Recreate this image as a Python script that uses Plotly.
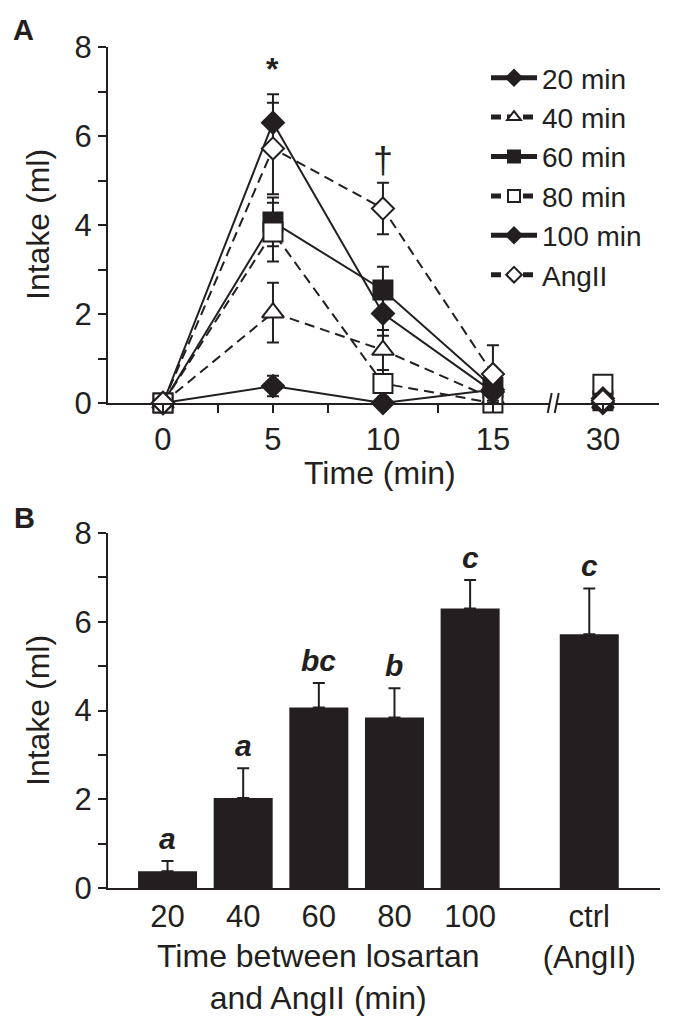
import plotly.graph_objects as go

# ---------------- Panel A data ----------------
times = [0, 5, 10, 15, 30]
series_names = ["20 min", "40 min", "60 min", "80 min", "100 min", "AngII"]
mean_20 = [0.0, 0.38, 0.00, 0.30, 0.00]
sem_20 = [0.0, 0.23, 0.05, 0.12, 0.00]
mean_40 = [0.0, 2.03, 1.19, 0.10, 0.00]
sem_40 = [0.0, 0.67, 0.45, 0.10, 0.00]
mean_60 = [0.0, 4.07, 2.54, 0.35, 0.05]
sem_60 = [0.0, 0.55, 0.52, 0.20, 0.05]
mean_80 = [0.0, 3.84, 0.44, 0.00, 0.42]
sem_80 = [0.0, 0.66, 0.30, 0.05, 0.20]
mean_100 = [0.0, 6.30, 2.01, 0.25, 0.10]
sem_100 = [0.0, 0.64, 0.50, 0.20, 0.10]
mean_ang = [0.0, 5.72, 4.37, 0.65, 0.05]
sem_ang = [0.0, 1.03, 0.58, 0.65, 0.05]
time_ticklabels = ["0", "5", "10", "15", "30"]

# ---------------- Panel B data ----------------
bar_labels = ["20", "40", "60", "80", "100", "ctrl<br>(AngII)"]
bar_values = [0.38, 2.03, 4.07, 3.84, 6.30, 5.72]
bar_sem = [0.23, 0.67, 0.55, 0.66, 0.64, 1.03]
bar_letters = ["a", "a", "bc", "b", "c", "c"]

# ---------------- styling ----------------
W, H = 674, 1030
INK = "#231f20"
FONT = "Liberation Sans, Arial, Helvetica, sans-serif"


def px_x(p):
    return p / W


def px_y(p):
    return 1 - p / H


BREAK_AFTER = 15      # axis is broken between 15 and 30 min
BREAK_POS = 20        # 30 min is drawn at this axis position


def time_to_axis(t):
    return t if t <= BREAK_AFTER else BREAK_POS


styles = {
    "20 min": dict(symbol="diamond", fill=INK, dash="solid", size=17),
    "40 min": dict(symbol="triangle-up", fill="white", dash="10px,6px", size=19),
    "60 min": dict(symbol="square", fill=INK, dash="solid", size=19),
    "80 min": dict(symbol="square", fill="white", dash="10px,6px", size=19),
    "100 min": dict(symbol="diamond", fill=INK, dash="solid", size=17),
    "AngII": dict(symbol="diamond", fill="white", dash="10px,6px", size=17),
}
means = [mean_20, mean_40, mean_60, mean_80, mean_100, mean_ang]
sems = [sem_20, sem_40, sem_60, sem_80, sem_100, sem_ang]

fig = go.Figure()

for name, m, s in zip(series_names, means, sems):
    xs, ys, es = [], [], []
    prev = None
    for t, v, e in zip(times, m, s):
        if prev is not None and prev <= BREAK_AFTER < t:
            xs.append(None)
            ys.append(None)
            es.append(0)
        xs.append(time_to_axis(t))
        ys.append(v)
        es.append(e)
        prev = t
    st = styles[name]
    fig.add_trace(go.Scatter(
        x=xs, y=ys, name=name, mode="lines+markers",
        line=dict(color=INK, width=2, dash=st["dash"]),
        marker=dict(symbol=st["symbol"], size=st["size"], color=st["fill"],
                    line=dict(color=INK, width=2)),
        error_y=dict(type="data", array=es, visible=True, color=INK,
                     thickness=2, width=6),
        cliponaxis=False, connectgaps=False,
        xaxis="x", yaxis="y",
    ))

bar_pos = [0, 1, 2, 3, 4, 5.575]
fig.add_trace(go.Bar(
    x=bar_pos, y=bar_values, width=0.78,
    marker=dict(color=INK, line=dict(width=0)),
    error_y=dict(type="data", array=bar_sem, arrayminus=[0] * len(bar_sem),
                 symmetric=False, color=INK, thickness=2, width=6),
    showlegend=False, xaxis="x2", yaxis="y2",
))

tick_font = dict(family=FONT, size=31, color=INK)
y_tickvals = list(range(0, 9))
y_ticktext = [str(v) if v % 2 == 0 else "" for v in y_tickvals]

axis_common = dict(showline=True, linecolor=INK, linewidth=2, showgrid=False,
                   zeroline=False, tickfont=tick_font, tickcolor=INK,
                   tickwidth=2, automargin=False)

fig.update_layout(
    template="none",
    width=W, height=H, autosize=False,
    margin=dict(l=0, r=0, t=0, b=0, pad=0),
    paper_bgcolor="white", plot_bgcolor="white",
    font=dict(family=FONT, color=INK, size=30),
    xaxis=dict(domain=[px_x(108), px_x(659)], range=[-2.5, 22.55],
               tickvals=[0, 2.5, 5, 7.5, 10, 12.5, 15, BREAK_POS],
               ticktext=["0", "", "5", "", "10", "", "15", "30"],
               ticks="outside", ticklen=8, anchor="y", **axis_common),
    yaxis=dict(domain=[px_y(403), px_y(47)], range=[0, 8],
               tickvals=y_tickvals, ticktext=y_ticktext,
               ticks="outside", ticklen=8, ticklabelstandoff=0, anchor="x",
               **axis_common),
    xaxis2=dict(domain=[px_x(108), px_x(660)], range=[-0.787, 6.51],
                tickvals=bar_pos, ticktext=bar_labels, ticks="",
                anchor="y2", **axis_common),
    yaxis2=dict(domain=[px_y(888), px_y(533)], range=[0, 8],
                tickvals=y_tickvals, ticktext=y_ticktext,
                ticks="outside", ticklen=8, ticklabelstandoff=0, anchor="x2",
                **axis_common),
    legend=dict(x=px_x(486), y=px_y(53), xanchor="left", yanchor="top",
                font=dict(family=FONT, size=28, color=INK),
                bgcolor="rgba(0,0,0,0)", borderwidth=0, itemwidth=46,
                itemsizing="constant", tracegroupgap=0),
    showlegend=True,
)

# axis break marks on the time axis
xd0, xd1 = px_x(108), px_x(659)
r0, r1 = -2.5, 22.55


def axis_paper_x(v):
    return xd0 + (v - r0) / (r1 - r0) * (xd1 - xd0)


break_centers = [17.58, 17.9]
y_axis_line = px_y(403)
fig.add_shape(type="rect", xref="paper", yref="paper",
              x0=axis_paper_x(break_centers[0]), x1=axis_paper_x(break_centers[1]),
              y0=y_axis_line - 2 / H, y1=y_axis_line + 2 / H,
              fillcolor="white", line=dict(width=0), layer="above")
for bc in break_centers:
    fig.add_shape(type="line", xref="paper", yref="paper",
                  x0=axis_paper_x(bc) - 2 / W, y0=y_axis_line - 10 / H,
                  x1=axis_paper_x(bc) + 2 / W, y1=y_axis_line + 10 / H,
                  line=dict(color=INK, width=2), layer="above")

ann = []
# panel letters
ann.append(dict(text="<b>A</b>", x=px_x(11), y=px_y(12), xref="paper", yref="paper",
                xanchor="left", yanchor="top", showarrow=False,
                font=dict(family=FONT, size=29, color=INK)))
ann.append(dict(text="<b>B</b>", x=px_x(12), y=px_y(500), xref="paper", yref="paper",
                xanchor="left", yanchor="top", showarrow=False,
                font=dict(family=FONT, size=29, color=INK)))
# y axis titles
for yc in (px_y(225), px_y(711)):
    ann.append(dict(text="Intake (ml)", x=px_x(38), y=yc, xref="paper", yref="paper",
                    xanchor="center", yanchor="middle", textangle=-90, showarrow=False,
                    font=dict(family=FONT, size=32, color=INK)))
# x axis titles
ann.append(dict(text="Time (min)", x=px_x(380), y=px_y(453), xref="paper", yref="paper",
                xanchor="center", yanchor="top", showarrow=False,
                font=dict(family=FONT, size=32, color=INK)))
ann.append(dict(text="Time between losartan<br>and AngII (min)", x=2, y=px_y(936),
                xref="x2", yref="paper", xanchor="center", yanchor="top",
                showarrow=False, font=dict(family=FONT, size=32, color=INK)))
# significance marks panel A
ann.append(dict(text="<b>*</b>", x=5, y=7.5, xref="x", yref="y", showarrow=False,
                xanchor="center", yanchor="middle",
                font=dict(family=FONT, size=32, color=INK)))
ann.append(dict(text="†", x=10, y=5.45, xref="x", yref="y", showarrow=False,
                xanchor="center", yanchor="middle",
                font=dict(family=FONT, size=36, color=INK)))
# letters over bars
for p, v, e, lt in zip(bar_pos, bar_values, bar_sem, bar_letters):
    ann.append(dict(text=f"<b><i>{lt}</i></b>", x=p, y=v + e, xref="x2", yref="y2",
                    xanchor="center", yanchor="bottom", yshift=4, showarrow=False,
                    font=dict(family=FONT, size=30, color=INK)))

fig.update_layout(annotations=ann)
fig.write_html(
    "out.html",
    config={"displayModeBar": False},
    post_script="document.body.style.margin='0px';document.body.style.overflow='hidden';",
)
